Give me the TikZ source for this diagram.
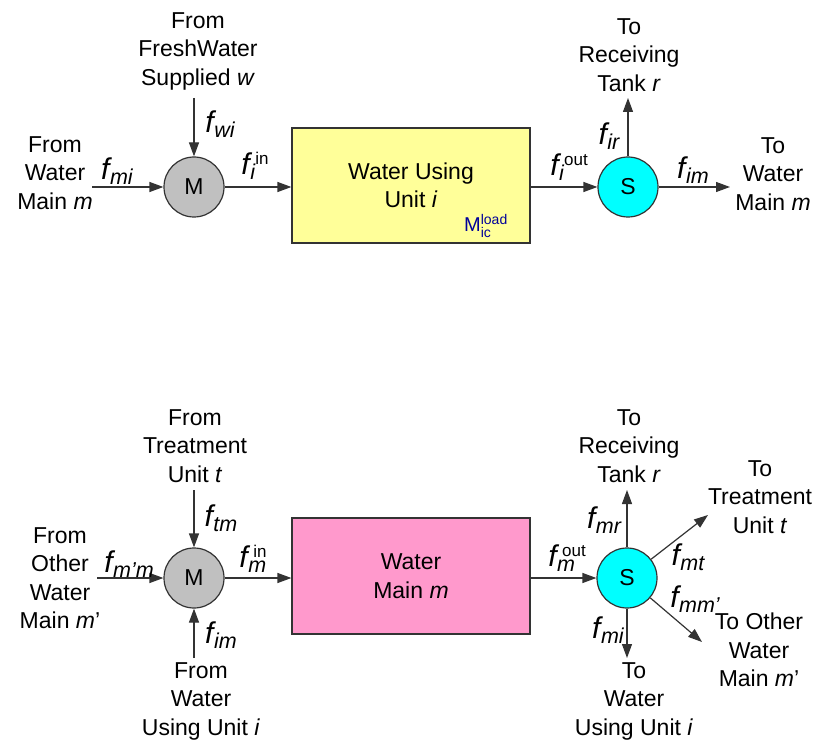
\documentclass[tikz,border=0pt]{standalone}
\usepackage{fontspec}
\setmainfont{Liberation Sans}
\usepackage{amsmath}
\usetikzlibrary{arrows.meta}

\definecolor{linec}{RGB}{51,51,51}
\definecolor{mixgray}{RGB}{192,192,192}
\definecolor{splitcyan}{RGB}{0,255,255}
\definecolor{unityellow}{RGB}{255,255,153}
\definecolor{mainpink}{RGB}{255,153,204}
\definecolor{loadblue}{RGB}{0,0,153}

% flow labels: italic f, italic subscript, optional upright superscript
\newcommand{\ffont}{\fontsize{30}{30}\selectfont\itshape}
\newcommand{\subf}{\fontsize{21.5}{21.5}\selectfont\itshape}
\newcommand{\supf}{\fontsize{17}{17}\selectfont\upshape}
\newsavebox\flsubbox
\newsavebox\flsupbox
\newcommand{\flow}[1]{{\ffont f}\kern0.5pt\raisebox{-4.5pt}{\subf #1}}
\newcommand{\flowio}[2]{%
  \sbox\flsubbox{\subf #1}\sbox\flsupbox{\kern5pt\supf #2}%
  {\ffont f}\kern0.5pt%
  \raisebox{-4.5pt}{\rlap{\usebox\flsubbox}}%
  \raisebox{10pt}{\rlap{\usebox\flsupbox}}%
  \ifdim\wd\flsubbox>\wd\flsupbox\kern\wd\flsubbox\else\kern\wd\flsupbox\fi}

\tikzset{
  lbl/.style={align=center, font=\fontsize{23}{28.5}\selectfont, inner sep=0pt},
  flabel/.style={inner sep=0pt},
  arr/.style={-{Triangle[length=14pt,width=10pt]}, line width=1.2pt, draw=linec},
  node circ/.style={circle, minimum size=60pt, inner sep=0pt, draw=linec,
    line width=1.2pt, font=\fontsize{23}{28}\selectfont},
  mixer/.style={node circ, fill=mixgray},
  splitter/.style={node circ, fill=splitcyan},
  unitbox/.style={rectangle, minimum width=238pt, minimum height=115pt,
    draw=linec, line width=1.2pt, align=center, font=\fontsize{23}{28.5}\selectfont}
}

\begin{document}
\begin{tikzpicture}[x=1pt,y=-1pt]
\useasboundingbox (0,0) rectangle (820,746);

% ---------- water using unit i ----------
\node[mixer] (M1) at (194,187) {M};
\node[unitbox, fill=unityellow] (U) at (411,185.5) {Water Using\\Unit \textit{i}};
\node[splitter] (S1) at (628,187) {S};
\node[inner sep=0pt, text=loadblue, font=\fontsize{20}{20}\selectfont] (load) at (486,226)
  {M$_{\text{ic}}^{\text{load}}$};

\coordinate (wIn) at (194,98);
\coordinate (mIn) at (92,187);
\coordinate (rOut) at (628,98);
\coordinate (mOut) at (730,187);

\draw[arr] (wIn) -- (M1);
\draw[arr] (mIn) -- (M1);
\draw[arr] (M1) -- (M1 -| U.west);
\draw[arr] (U.east |- S1) -- (S1);
\draw[arr] (S1) -- (rOut);
\draw[arr] (S1) -- (mOut);

\node[lbl] (fw) at (198,51) {From\\FreshWater\\Supplied \textit{w}};
\node[lbl] (fm) at (55,173) {From\\Water\\Main \textit{m}};
\node[lbl] (tr) at (629,55) {To\\Receiving\\Tank \textit{r}};
\node[lbl] (tm) at (773,174) {To\\Water\\Main \textit{m}};

\node[flabel] (lwi) at (220,124) {\flow{wi}};
\node[flabel] (lmi) at (117,171) {\flow{mi}};
\node[flabel] (lin) at (255,166) {\flowio{i}{in}};
\node[flabel] (lout) at (569,167) {\flowio{i}{out}};
\node[flabel] (lir) at (609,136) {\flow{ir}};
\node[flabel] (lim) at (693,170) {\flow{im}};

% ---------- water main m ----------
\node[mixer] (M2) at (194,578) {M};
\node[unitbox, fill=mainpink, minimum height=116pt] (W) at (411,576) {Water\\Main \textit{m}};
\node[splitter] (S2) at (627,578) {S};

\coordinate (tIn) at (194,490);
\coordinate (mpIn) at (97,578);
\coordinate (iIn) at (194,658);
\coordinate (rOut2) at (627,490);
\coordinate (iOut2) at (627,658);
\coordinate (tOut2) at (708,515);
\coordinate (mpOut2) at (702,642);

\draw[arr] (tIn) -- (M2);
\draw[arr] (mpIn) -- (M2);
\draw[arr] (iIn) -- (M2);
\draw[arr] (M2) -- (M2 -| W.west);
\draw[arr] (W.east |- S2) -- (S2);
\draw[arr] (S2) -- (rOut2);
\draw[arr] (S2) -- (iOut2);
\draw[arr] (S2) -- (tOut2);
\draw[arr] (S2) -- (mpOut2);

\node[lbl] (ft) at (195,446) {From\\Treatment\\Unit \textit{t}};
\node[lbl] (fo) at (60,578) {From\\Other\\Water\\Main \textit{m}’};
\node[lbl] (fu) at (201,701) {From\\Water\\Using Unit \textit{i}};
\node[lbl] (tr2) at (629,446) {To\\Receiving\\Tank \textit{r}};
\node[lbl] (tt2) at (760,497) {To\\Treatment\\Unit \textit{t}};
\node[lbl] (to2) at (759,650) {To Other\\Water\\Main \textit{m}’};
\node[lbl] (tu2) at (634,701) {To\\Water\\Using Unit \textit{i}};

\node[flabel] (ltm) at (221,518) {\flow{tm}};
\node[flabel] (lmpm) at (129,564) {\flow{m’m}};
\node[flabel] (lmin) at (253,559) {\flowio{m}{in}};
\node[flabel] (lim2) at (221,635) {\flow{im}};
\node[flabel] (lmout) at (567,558) {\flowio{m}{out}};
\node[flabel] (lmr) at (604,520) {\flow{mr}};
\node[flabel] (lmt) at (688,557) {\flow{mt}};
\node[flabel] (lmm) at (695,599) {\flow{mm’}};
\node[flabel] (lmi2) at (608,630) {\flow{mi}};
\end{tikzpicture}
\end{document}
